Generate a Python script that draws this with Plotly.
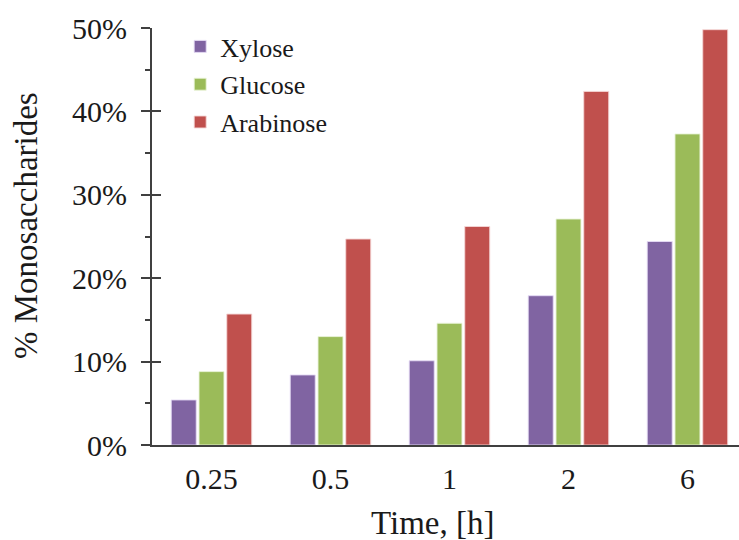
import plotly.graph_objects as go

categories = ["0.25", "0.5", "1", "2", "6"]
xylose = [0.054, 0.084, 0.101, 0.179, 0.244]
glucose = [0.088, 0.130, 0.146, 0.271, 0.373]
arabinose = [0.157, 0.247, 0.262, 0.424, 0.498]

series = [
    ("Xylose", xylose, "#8064A2", "rgba(230,220,245,0.9)"),
    ("Glucose", glucose, "#9BBB59", "rgba(235,245,220,0.9)"),
    ("Arabinose", arabinose, "#C0504D", "rgba(245,215,215,0.9)"),
]

FONT = "Liberation Serif"
fig = go.Figure()
for name, vals, col, edge in series:
    fig.add_trace(go.Bar(
        x=categories, y=vals, name=name, legendgroup=name,
        marker=dict(color=col, line=dict(color=edge, width=1)),
    ))

# invisible trace on overlay axis for inside major ticks
fig.add_trace(go.Scatter(x=categories, y=[None]*5, yaxis="y2", showlegend=False,
                         hoverinfo="skip"))

fig.update_layout(
    width=739, height=540,
    margin=dict(l=152, r=0, t=28, b=95),
    plot_bgcolor="white", paper_bgcolor="white",
    barmode="group", bargap=0.30, bargroupgap=0.10,
    font=dict(family=FONT, color="#1a1a1a", size=30),
    legend=dict(x=0.048, y=1.012, xanchor="left", yanchor="top",
                font=dict(family=FONT, size=26, color="#1a1a1a"),
                tracegroupgap=1, bgcolor="rgba(0,0,0,0)"),
    xaxis=dict(type="category", range=[-0.5, 4.433], showline=True,
               linecolor="#404040", linewidth=2, ticks="", showgrid=False,
               tickfont=dict(size=30), ticklabelstandoff=6),
    yaxis=dict(range=[0, 0.5], tickformat=".0%", dtick=0.1, tick0=0,
               showline=True, linecolor="#404040", linewidth=2,
               ticks="outside", ticklen=9, tickwidth=2, tickcolor="#404040",
               minor=dict(dtick=0.05, ticks="outside", ticklen=5,
                          tickwidth=2, tickcolor="#404040"),
               showgrid=False, zeroline=False, tickfont=dict(size=30),
               ticklabelstandoff=8),
    yaxis2=dict(range=[0, 0.5], overlaying="y", side="left", dtick=0.1,
                ticks="inside", ticklen=9, tickwidth=2, tickcolor="#404040",
                showticklabels=False, showgrid=False, zeroline=False,
                showline=False),
    annotations=[
        dict(text="% Monosaccharides", xref="paper", yref="paper",
             x=-0.2147, y=0.5276, xanchor="center", yanchor="middle",
             textangle=-90, showarrow=False,
             font=dict(family=FONT, size=33, color="#1a1a1a")),
        dict(text="Time, [h]", xref="paper", yref="paper",
             x=0.4787, y=-0.188, xanchor="center", yanchor="middle",
             showarrow=False,
             font=dict(family=FONT, size=33, color="#1a1a1a")),
    ],
)

fig.write_html("out.html", config={"displayModeBar": False})

# remove the browser's default page margin so the figure sits at (0, 0)
with open("out.html", "r", encoding="utf-8") as f:
    html = f.read()
html = html.replace("<body>", '<body style="margin:0;overflow:hidden">', 1)
with open("out.html", "w", encoding="utf-8") as f:
    f.write(html)
